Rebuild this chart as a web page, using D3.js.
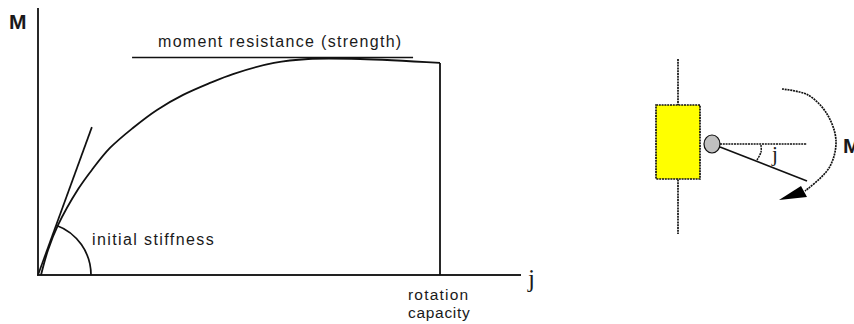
<!DOCTYPE html>
<html>
<head>
<meta charset="utf-8">
<script src="https://cdn.jsdelivr.net/npm/d3@7"></script>
<style>
  html, body { margin: 0; padding: 0; background: #fff; }
  svg { display: block; }
  text { font-family: "Liberation Sans", Arial, sans-serif; fill: #1a1a1a; }
</style>
</head>
<body>
<div id="chart"></div>
<script>
// moment-rotation curve, phi and M both in % of rotation capacity / strength
const curvePhi = [0.75, 2.5, 5, 10, 13.4, 17.9, 23.6, 29.6, 36.1, 42.8, 48.5, 58.7, 67.2, 80.1, 100];
const curveM = [0, 11.5, 23, 39.5, 48.3, 58.4, 67.6, 75.9, 82.8, 88.3, 92.4, 97.5, 99.3, 99.3, 97.5];
const capacityPhi = 100;
const strengthLine = [[23.4, 100], [93.3, 100]];
const tangentLine = [[0, 0], [13.4, 68]];
const stiffnessRadius = 53;  // px, arc between axis and tangent

// joint sketch on the right, in sketch units
const columnLine = [[678, 59], [678, 234]];
const plate = { x0: 656, x1: 700, y0: 105, y1: 179 };
const hinge = { x: 712, y: 144, r: 8 };
const beamRest = [[720, 144], [807, 144]];
const beamTurned = [[720, 147], [807, 181]];
const momentArc = [[782, 89], [808, 95], [827, 114], [836, 141], [829, 168], [805, 191]];
const angleArc = [[761, 145], [761, 152], [757, 160]];
const arrowHead = [[779, 200], [801, 186], [807, 197]];

const labels = [
  { text: 'M', x: 9, y: 29, size: 21, weight: 'bold', spacing: 0 },
  { text: 'moment resistance (strength)', x: 158, y: 47, size: 16, spacing: 1.3 },
  { text: 'initial stiffness', x: 92, y: 245, size: 16, spacing: 1.4 },
  { text: 'rotation', x: 408, y: 300, size: 15.5, spacing: 1.2 },
  { text: 'capacity', x: 408, y: 318, size: 15.5, spacing: 0.7 },
  { text: 'M', x: 843, y: 153, size: 21, weight: 'bold', spacing: 0 }
];

const width = 854, height = 324;
const svg = d3.select('#chart').append('svg').attr('width', width).attr('height', height);

const x = d3.scaleLinear().domain([0, 100]).range([38, 440]);
const y = d3.scaleLinear().domain([0, 100]).range([275, 57.5]);
const sketchLine = d3.line();

// axes
const axisColor = '#111';
svg.append('line').attr('x1', x(0)).attr('x2', x(0)).attr('y1', 8).attr('y2', y(0))
  .attr('stroke', axisColor).attr('stroke-width', 1.8);
svg.append('line').attr('x1', x(0) - 1).attr('x2', 521).attr('y1', y(0)).attr('y2', y(0))
  .attr('stroke', '#222').attr('stroke-width', 1.8);

const line = d3.line().x(d => x(d[0])).y(d => y(d[1]));

svg.append('path')
  .attr('d', d3.line().x(d => x(d[0])).y(d => y(d[1])).curve(d3.curveCatmullRom.alpha(0.5))(d3.zip(curvePhi, curveM)))
  .attr('fill', 'none').attr('stroke', axisColor).attr('stroke-width', 1.8);

// drop at rotation capacity
svg.append('path')
  .attr('d', line([[capacityPhi, curveM[curveM.length - 1]], [capacityPhi, 0]]))
  .attr('fill', 'none').attr('stroke', axisColor).attr('stroke-width', 1.8);

svg.append('path').attr('d', line(strengthLine))
  .attr('fill', 'none').attr('stroke', axisColor).attr('stroke-width', 1.7);
svg.append('path').attr('d', line(tangentLine))
  .attr('fill', 'none').attr('stroke', axisColor).attr('stroke-width', 1.7);

// stiffness angle arc
const tangentAngle = Math.atan2(y(0) - y(tangentLine[1][1]), x(tangentLine[1][0]) - x(0));
svg.append('path')
  .attr('transform', `translate(${x(0)},${y(0)})`)
  .attr('d', d3.arc()({
    innerRadius: stiffnessRadius, outerRadius: stiffnessRadius,
    startAngle: Math.PI / 2 - tangentAngle, endAngle: Math.PI / 2
  }))
  .attr('fill', 'none').attr('stroke', axisColor).attr('stroke-width', 1.7);

// joint sketch
const dash = '2,0.8';
svg.append('path').attr('d', sketchLine(columnLine))
  .attr('fill', 'none').attr('stroke', '#111').attr('stroke-width', 1.7).attr('stroke-dasharray', dash);
svg.append('rect')
  .attr('x', plate.x0).attr('y', plate.y0)
  .attr('width', plate.x1 - plate.x0).attr('height', plate.y1 - plate.y0)
  .attr('fill', '#ffff00').attr('stroke', '#111').attr('stroke-width', 1.7).attr('stroke-dasharray', dash);
svg.append('ellipse')
  .attr('cx', hinge.x).attr('cy', hinge.y).attr('rx', hinge.r).attr('ry', hinge.r + 1)
  .attr('fill', '#c0c0c0').attr('stroke', '#111').attr('stroke-width', 1.2);
svg.append('path').attr('d', sketchLine(beamRest))
  .attr('fill', 'none').attr('stroke', '#111').attr('stroke-width', 1.7).attr('stroke-dasharray', dash);
svg.append('path').attr('d', sketchLine(beamTurned))
  .attr('fill', 'none').attr('stroke', '#111').attr('stroke-width', 1.6);
svg.append('path').attr('d', d3.line().curve(d3.curveCatmullRom)(momentArc))
  .attr('fill', 'none').attr('stroke', '#111').attr('stroke-width', 1.7).attr('stroke-dasharray', dash);
svg.append('path').attr('d', d3.line().curve(d3.curveCatmullRom)(angleArc))
  .attr('fill', 'none').attr('stroke', '#111').attr('stroke-width', 1.5).attr('stroke-dasharray', dash);
svg.append('path').attr('d', sketchLine(arrowHead) + 'Z').attr('fill', '#000');

// the phi symbols come out as a plain j in the source
svg.append('text').attr('x', 528).attr('y', 287).text('j')
  .style('font-family', '"Liberation Serif", serif').style('font-size', '25px');
svg.append('text').attr('x', 772).attr('y', 161).text('j')
  .style('font-family', '"Liberation Serif", serif').style('font-size', '21px');

svg.selectAll('text.label')
  .data(labels)
  .enter()
  .append('text')
  .attr('class', 'label')
  .attr('x', d => d.x)
  .attr('y', d => d.y)
  .style('font-size', d => d.size + 'px')
  .style('font-weight', d => d.weight || 'normal')
  .style('letter-spacing', d => d.spacing + 'px')
  .text(d => d.text);
</script>
</body>
</html>
